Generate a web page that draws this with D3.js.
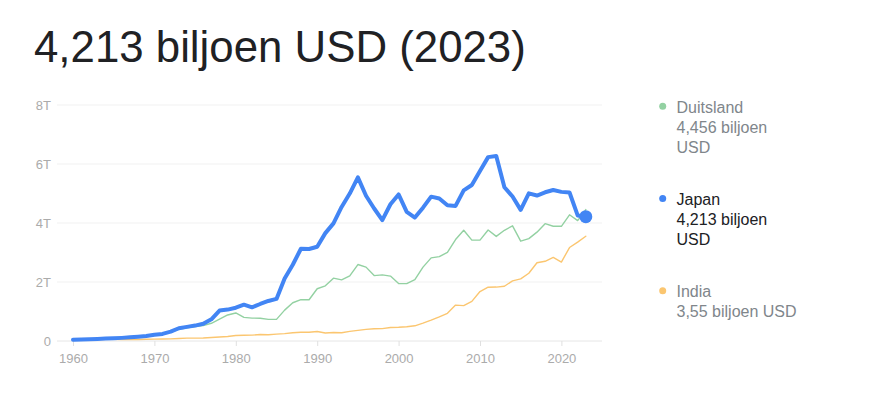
<!DOCTYPE html>
<html>
<head>
<meta charset="utf-8">
<script src="https://cdn.jsdelivr.net/npm/d3@7"></script>
<style>
  body { margin: 0; background: #fff; font-family: "Liberation Sans", Arial, sans-serif; }
  svg { display: block; }
</style>
</head>
<body>
<svg id="chart" width="872" height="397"></svg>
<script>
// DATA (trillion USD)
const years = d3.range(1960, 2024);

const japan = [0.044, 0.054, 0.061, 0.070, 0.082, 0.091, 0.106, 0.124, 0.147, 0.173,
  0.213, 0.241, 0.318, 0.432, 0.479, 0.522, 0.585, 0.737, 1.032, 1.065,
  1.129, 1.232, 1.142, 1.255, 1.358, 1.427, 2.121, 2.585, 3.126, 3.118,
  3.196, 3.657, 3.988, 4.545, 4.998, 5.546, 4.923, 4.492, 4.098, 4.636,
  4.968, 4.375, 4.183, 4.520, 4.893, 4.831, 4.601, 4.580, 5.106, 5.289,
  5.759, 6.233, 6.272, 5.212, 4.897, 4.445, 5.004, 4.931, 5.041, 5.118,
  5.055, 5.034, 4.256, 4.213];

// Germany starts in 1970
const germany = [null, null, null, null, null, null, null, null, null, null,
  0.216, 0.250, 0.300, 0.398, 0.445, 0.490, 0.520, 0.601, 0.740, 0.882,
  0.950, 0.801, 0.777, 0.771, 0.733, 0.733, 1.047, 1.297, 1.402, 1.398,
  1.772, 1.869, 2.131, 2.071, 2.206, 2.592, 2.504, 2.217, 2.243, 2.200,
  1.948, 1.945, 2.079, 2.505, 2.819, 2.861, 3.002, 3.440, 3.752, 3.418,
  3.418, 3.761, 3.545, 3.753, 3.905, 3.383, 3.470, 3.690, 3.977, 3.889,
  3.888, 4.278, 4.082, 4.456];

const india = [0.037, 0.039, 0.042, 0.049, 0.056, 0.059, 0.046, 0.050, 0.053, 0.058,
  0.062, 0.067, 0.071, 0.085, 0.099, 0.098, 0.103, 0.121, 0.137, 0.153,
  0.186, 0.193, 0.200, 0.218, 0.212, 0.233, 0.249, 0.279, 0.296, 0.296,
  0.321, 0.270, 0.288, 0.279, 0.327, 0.360, 0.393, 0.415, 0.421, 0.458,
  0.468, 0.485, 0.515, 0.608, 0.709, 0.820, 0.940, 1.217, 1.199, 1.342,
  1.676, 1.823, 1.828, 1.857, 2.039, 2.104, 2.295, 2.651, 2.703, 2.836,
  2.675, 3.168, 3.354, 3.550];

const yTicks = [0, 2, 4, 6, 8];
const yTickLabels = ["0", "2T", "4T", "6T", "8T"];
const xTicks = [1960, 1970, 1980, 1990, 2000, 2010, 2020];

const title = "4,213 biljoen USD (2023)";
const legendItems = [
  { name: "Duitsland", lines: ["Duitsland", "4,456 biljoen", "USD"], color: "#93d1a2", text: "#80868b" },
  { name: "Japan", lines: ["Japan", "4,213 biljoen", "USD"], color: "#4285f4", text: "#202124" },
  { name: "India", lines: ["India", "3,55 biljoen USD"], color: "#fbc670", text: "#80868b" }
];

const svg = d3.select("svg#chart");

// TITLE
svg.append("text")
  .attr("x", 34)
  .attr("y", 62)
  .attr("font-size", 43.8)
  .attr("fill", "#202124")
  .text(title);

// SCALES
const xScale = d3.scaleLinear().domain([1960, 2023]).range([73, 585.8]);
const yScale = d3.scaleLinear().domain([0, 8]).range([341, 105]);

// GRID + Y LABELS
const grid = svg.append("g");
grid.selectAll("line")
  .data(yTicks.slice(1))
  .join("line")
  .attr("x1", 57).attr("x2", 602)
  .attr("y1", d => yScale(d)).attr("y2", d => yScale(d))
  .attr("stroke", "#f1f1f1")
  .attr("stroke-width", 1);

grid.selectAll("text")
  .data(yTicks)
  .join("text")
  .attr("x", 51)
  .attr("y", d => yScale(d))
  .attr("dy", "0.35em")
  .attr("text-anchor", "end")
  .attr("font-size", 13)
  .attr("fill", "#ababab")
  .text((d, i) => yTickLabels[i]);

// X AXIS
const xAxis = g => g.attr("transform", `translate(0, ${yScale(0)})`)
  .call(d3.axisBottom(xScale).tickValues(xTicks).tickFormat(d3.format("d")).tickSize(5).tickSizeOuter(0))
  .call(g => g.select(".domain").remove())
  .call(g => g.selectAll(".tick line").attr("stroke", "#e0e0e0"))
  .call(g => g.selectAll(".tick text")
    .attr("font-family", "Liberation Sans, Arial, sans-serif")
    .attr("font-size", 13)
    .attr("fill", "#ababab")
    .attr("dy", "1.05em"));

svg.append("line")
  .attr("x1", 57).attr("x2", 602)
  .attr("y1", yScale(0)).attr("y2", yScale(0))
  .attr("stroke", "#e6e6e6");

svg.append("g").call(xAxis);

// LINES
const line = d3.line()
  .defined(d => d[1] != null)
  .x(d => xScale(d[0]))
  .y(d => yScale(d[1]));

const series = [
  { values: india, color: "#fbc670", width: 1.4 },
  { values: germany, color: "#93d1a2", width: 1.4 },
  { values: japan, color: "#4285f4", width: 4 }
];

svg.selectAll("path.line")
  .data(series)
  .join("path")
  .attr("class", "line")
  .attr("fill", "none")
  .attr("stroke", d => d.color)
  .attr("stroke-width", d => d.width)
  .attr("stroke-linejoin", "round")
  .attr("stroke-linecap", "round")
  .attr("d", d => line(years.map((y, i) => [y, d.values[i]])));

// end dot on Japan
svg.append("circle")
  .attr("cx", xScale(2023))
  .attr("cy", yScale(japan[japan.length - 1]))
  .attr("r", 6.5)
  .attr("fill", "#4285f4");

// LEGEND
const legendTops = [112.7, 205, 297.3];
const legend = svg.append("g");
legendItems.forEach((item, i) => {
  const g = legend.append("g");
  g.append("circle")
    .attr("cx", 662.7)
    .attr("cy", legendTops[i] - 6.5)
    .attr("r", 3.5)
    .attr("fill", item.color);
  g.selectAll("text")
    .data(item.lines)
    .join("text")
    .attr("x", 676.5)
    .attr("y", (d, j) => legendTops[i] + j * 20)
    .attr("font-size", 16)
    .attr("fill", item.text)
    .text(d => d);
});
</script>
</body>
</html>
